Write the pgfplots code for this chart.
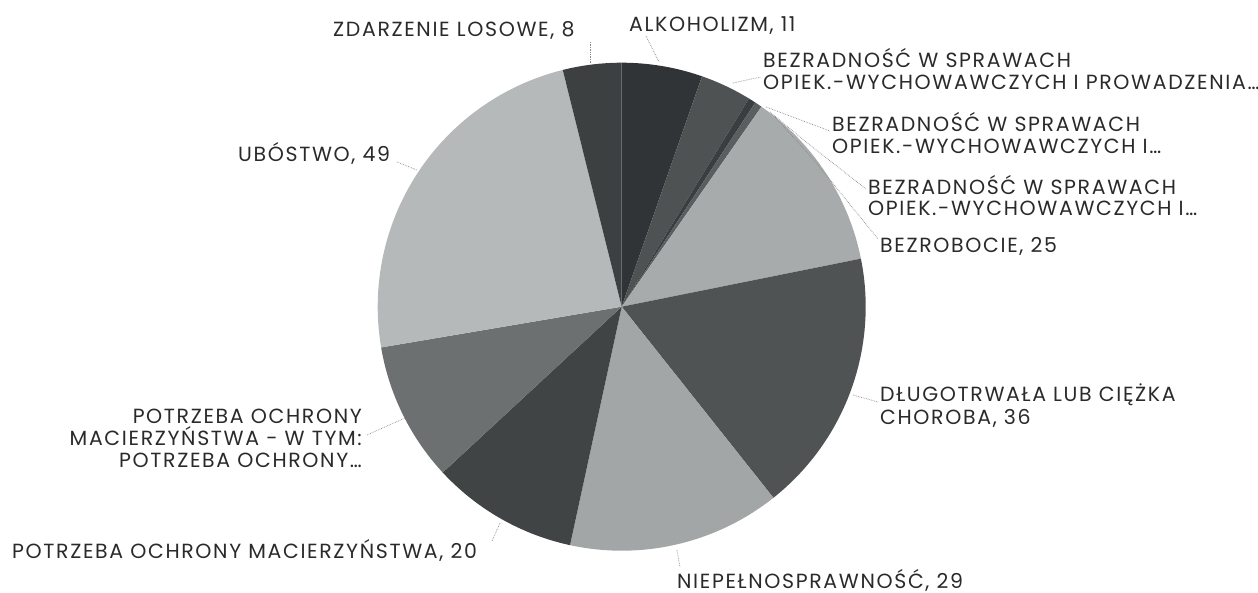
\documentclass[border=0pt]{standalone}
\usepackage{pgfplots}
\pgfplotsset{compat=1.18}
\usepackage{fontspec}
\setmainfont{Poppins}[LetterSpace=8]
\definecolor{cAlk}{HTML}{303436}
\definecolor{cBa}{HTML}{4E5253}
\definecolor{cBb}{HTML}{3A3E40}
\definecolor{cBc}{HTML}{5A5E5F}
\definecolor{cBezrob}{HTML}{A8ABAB}
\definecolor{cDlug}{HTML}{4F5354}
\definecolor{cNiep}{HTML}{A3A6A6}
\definecolor{cPotrz}{HTML}{404445}
\definecolor{cWtym}{HTML}{6D7071}
\definecolor{cUbo}{HTML}{B6B9B9}
\definecolor{cZdarz}{HTML}{3C4041}
\definecolor{txt}{HTML}{2A2A2A}
\definecolor{lead}{HTML}{8A8A8A}
\tikzset{lbl/.style={font=\fontsize{20.5}{22}\selectfont, text=txt, inner sep=0pt}}
\def\cx{621.7}\def\cy{306.7}\def\R{244}
\def\total{206}
\gdef\cum{0}
\newcommand\pieslice[2]{%
  \pgfmathsetmacro\sa{\cum/\total*360}%
  \pgfmathsetmacro\sb{(\cum+#1)/\total*360}%
  \addplot[fill=#2, draw=none, domain=\sa:\sb, samples=80, variable=\t]
    ({\cx+\R*sin(\t)},{\cy-\R*cos(\t)}) -- (axis cs:\cx,\cy) -- cycle;
  \pgfmathsetmacro\newcum{\cum+#1}%
  \xdef\cum{\newcum}%
}
\begin{document}
\begin{tikzpicture}
\begin{axis}[at={(0,0)}, anchor=south west, width=1258pt, height=593pt,
  scale only axis, xmin=0, xmax=1258, ymin=0, ymax=593, y dir=reverse,
  axis lines=none, clip=false]
% values (clockwise from 12 o'clock)
\pieslice{11}{cAlk}    % ALKOHOLIZM
\pieslice{7}{cBa}      % BEZRADNOSC ... PROWADZENIA
\pieslice{1}{cBb}      % BEZRADNOSC 2
\pieslice{1}{cBc}      % BEZRADNOSC 3
\pieslice{25}{cBezrob} % BEZROBOCIE
\pieslice{36}{cDlug}   % DLUGOTRWALA
\pieslice{29}{cNiep}   % NIEPELNOSPRAWNOSC
\pieslice{20}{cPotrz}  % POTRZEBA OCHRONY
\pieslice{19}{cWtym}   % POTRZEBA ... W TYM
\pieslice{49}{cUbo}    % UBOSTWO
\pieslice{8}{cZdarz}   % ZDARZENIE LOSOWE
% leader lines
\addplot[densely dotted, lead, line width=0.7pt] coordinates {(590,42) (590,63)};
\addplot[densely dotted, lead, line width=0.7pt] coordinates {(646,36) (659,62)};
\addplot[densely dotted, lead, line width=0.7pt] coordinates {(733,83) (761,77)};
\addplot[densely dotted, lead, line width=0.7pt] coordinates {(766,107) (830,131)};
\addplot[densely dotted, lead, line width=0.7pt] coordinates {(770,112) (806,142) (866,189)};
\addplot[densely dotted, lead, line width=0.7pt] coordinates {(774,116) (814,160) (878,239)};
\addplot[densely dotted, lead, line width=0.7pt] coordinates {(853,395) (878,402)};
\addplot[densely dotted, lead, line width=0.7pt] coordinates {(677,550) (680,567)};
\addplot[densely dotted, lead, line width=0.7pt] coordinates {(500,523) (492,541)};
\addplot[densely dotted, lead, line width=0.7pt] coordinates {(405,418) (367,435)};
\addplot[densely dotted, lead, line width=0.7pt] coordinates {(397,162) (417,170)};
% labels
\node[lbl, anchor=base west] at (axis cs:333,37) {ZDARZENIE LOSOWE, 8};
\node[lbl, anchor=base west] at (axis cs:629,32) {ALKOHOLIZM, 11};
\node[lbl, anchor=base west] at (axis cs:763,68) {BEZRADNOŚĆ W SPRAWACH};
\node[lbl, anchor=base west] at (axis cs:763,90) {OPIEK.-WYCHOWAWCZYCH I PROWADZENIA…};
\node[lbl, anchor=base west] at (axis cs:832,132) {BEZRADNOŚĆ W SPRAWACH};
\node[lbl, anchor=base west] at (axis cs:832,154) {OPIEK.-WYCHOWAWCZYCH I…};
\node[lbl, anchor=base west] at (axis cs:868,195) {BEZRADNOŚĆ W SPRAWACH};
\node[lbl, anchor=base west] at (axis cs:868,216) {OPIEK.-WYCHOWAWCZYCH I…};
\node[lbl, anchor=base west] at (axis cs:880,253) {BEZROBOCIE, 25};
\node[lbl, anchor=base west] at (axis cs:880,402) {DŁUGOTRWAŁA LUB CIĘŻKA};
\node[lbl, anchor=base west] at (axis cs:880,424) {CHOROBA, 36};
\node[lbl, anchor=base west] at (axis cs:677,588) {NIEPEŁNOSPRAWNOŚĆ, 29};
\node[lbl, anchor=base west] at (axis cs:12,558) {POTRZEBA OCHRONY MACIERZYŃSTWA, 20};
\node[lbl, anchor=base east] at (axis cs:362,423) {POTRZEBA OCHRONY};
\node[lbl, anchor=base east] at (axis cs:362,445) {MACIERZYŃSTWA - W TYM:};
\node[lbl, anchor=base east] at (axis cs:362,467) {POTRZEBA OCHRONY…};
\node[lbl, anchor=base west] at (axis cs:238,162) {UBÓSTWO, 49};
\end{axis}
\pgfresetboundingbox
\path (0,0) rectangle (1258pt,593pt);
\end{tikzpicture}
\end{document}
